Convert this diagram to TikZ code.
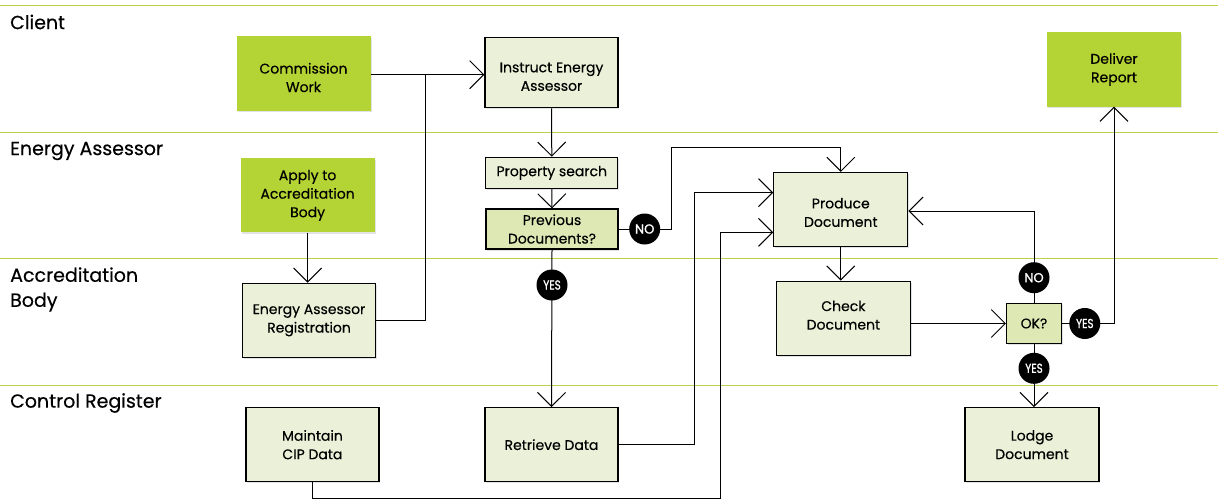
\documentclass[tikz,border=0pt]{standalone}
\usepackage{fontspec}
\setmainfont{Poppins}[FakeBold=0.35]
\newfontfamily\tagfont{Poppins}[FakeBold=1.2]
\usetikzlibrary{arrows.meta,shadows,calc}
\definecolor{brightgreen}{HTML}{B4D334}
\definecolor{palegreen}{HTML}{EBF1D8}
\definecolor{midgreen}{HTML}{DDE8B4}
\definecolor{laneline}{HTML}{BCD04C}
\begin{document}
\begin{tikzpicture}[x=1pt,y=-1pt,
  lane/.style={draw=laneline,line width=0.9pt},
  lanelabel/.style={anchor=west,align=left,font=\fontsize{19}{25}\selectfont,inner sep=0pt},
  boxtext/.style={align=center,inner sep=0pt,font=\fontsize{14}{18.5}\selectfont},
  boxbase/.style={minimum width=134pt,minimum height=74pt,align=center,inner sep=2pt,
    font=\fontsize{14}{18.5}\selectfont,
    drop shadow={opacity=0.22,shadow xshift=1.2pt,shadow yshift=-1.5pt}},
  actbox/.style={boxbase,fill=brightgreen},
  procbox/.style={boxbase,fill=palegreen,draw=black,line width=1.2pt},
  decbox/.style={boxbase,fill=midgreen,draw=black,line width=1.1pt},
  tag/.style={circle,fill=black,text=white,minimum size=31pt,inner sep=0pt,
    font=\tagfont\fontsize{13}{13}\selectfont},
  flow/.style={draw=black,line width=1pt,-{Straight Barb[length=14pt,width=28pt,line width=1pt]}},
  plain/.style={draw=black,line width=1pt}
]
\useasboundingbox (0,0) rectangle (1218,503);
% lanes
\draw[lane] (0,5.5) -- (1218,5.5);
\draw[lane] (0,132) -- (1218,132);
\draw[lane] (0,258.5) -- (1218,258.5);
\draw[lane] (0,385) -- (1218,385);
\node[lanelabel] (lc) at (10,22) {Client};
\node[lanelabel] (le) at (10,151) {Energy Assessor};
\node[lanelabel] (la) at (10,289.5) {Accreditation\\Body};
\node[lanelabel] (lr) at (10,403) {Control Register};
% boxes
\node[actbox] (commission) at (303.5,73.5) {};
\node[boxtext] (commission-t) at ($(commission.center)+(0,4)$) {Commission\\Work};
\node[procbox,minimum width=133pt,minimum height=70pt] (instruct) at (551.5,72.7) {};
\node[boxtext] (instruct-t) at ($(instruct.center)+(0,4)$) {Instruct Energy\\Assessor};
\node[actbox] (apply) at (307.6,195.3) {Apply to\\Accreditation\\Body};
\node[procbox,minimum width=132pt,minimum height=31pt] (property) at (551.8,172.8) {Property search};
\node[decbox,minimum width=132pt,minimum height=40pt] (previous) at (552,229) {Previous\\Documents?};
\node[procbox,minimum width=133pt] (registration) at (309,320.3) {Energy Assessor\\Registration};
\node[procbox,minimum width=133pt] (maintain) at (312.4,444.7) {Maintain\\CIP Data};
\node[procbox,minimum width=133pt] (retrieve) at (551.5,444.7) {Retrieve Data};
\node[procbox] (produce) at (840.8,209.5) {};
\node[boxtext] (produce-t) at ($(produce.center)+(0,3)$) {Produce\\Document};
\node[procbox] (check) at (843.4,318.2) {};
\node[boxtext] (check-t) at ($(check.center)+(0,-3)$) {Check\\Document};
\node[decbox,minimum width=55pt,minimum height=40pt] (ok) at (1034,323.5) {OK?};
\node[procbox] (lodge) at (1032,444.7) {Lodge\\Document};
\node[actbox] (deliver) at (1114,69.5) {Deliver\\Report};
% junction coordinates
\coordinate (j1) at (425,74.7);
\coordinate (n1) at (671,147.7);
\coordinate (r1) at (694,192.7);
\coordinate (m1) at (720.6,498.3);
\coordinate (m2) at (720.6,232.3);
\coordinate (f1) at (1034,211);
% connectors
\draw[flow] (commission.east |- j1) -- (j1 -| instruct.west);
\draw[plain] (registration.east) -| (j1);
\draw[flow] (instruct.south) -- (property.north);
\draw[flow] (property.south) -- (previous.north);
\draw[flow] (apply.south) -- (apply.south |- registration.north);
\draw[flow] (previous.south) -- (retrieve.north);
\draw[flow] (previous.east) -| (n1) -| (produce.north);
\draw[flow] (retrieve.east) -| (r1) -- (r1 -| produce.west);
\draw[flow] (maintain.south) |- (m1) -- (m2) -- (m2 -| produce.west);
\draw[flow] (produce.south) -- (produce.south |- check.north);
\draw[flow] (ok.west -| check.east) -- (ok.west);
\draw[flow] (ok.north) -- (f1) -- (f1 -| produce.east);
\draw[flow] (ok.east) -| (deliver.south);
\draw[flow] (ok.south) -- (ok.south |- lodge.north);
% tags
\node[tag] (noA) at (644.7,229) {NO};
\node[tag] (yesA) at (552,285) {\scalebox{0.8}[1]{YES}};
\node[tag] (noB) at (1034,277.7) {NO};
\node[tag] (yesB) at (1084.8,323.5) {\scalebox{0.8}[1]{YES}};
\node[tag] (yesC) at (1034,368.3) {\scalebox{0.8}[1]{YES}};
\end{tikzpicture}
\end{document}
